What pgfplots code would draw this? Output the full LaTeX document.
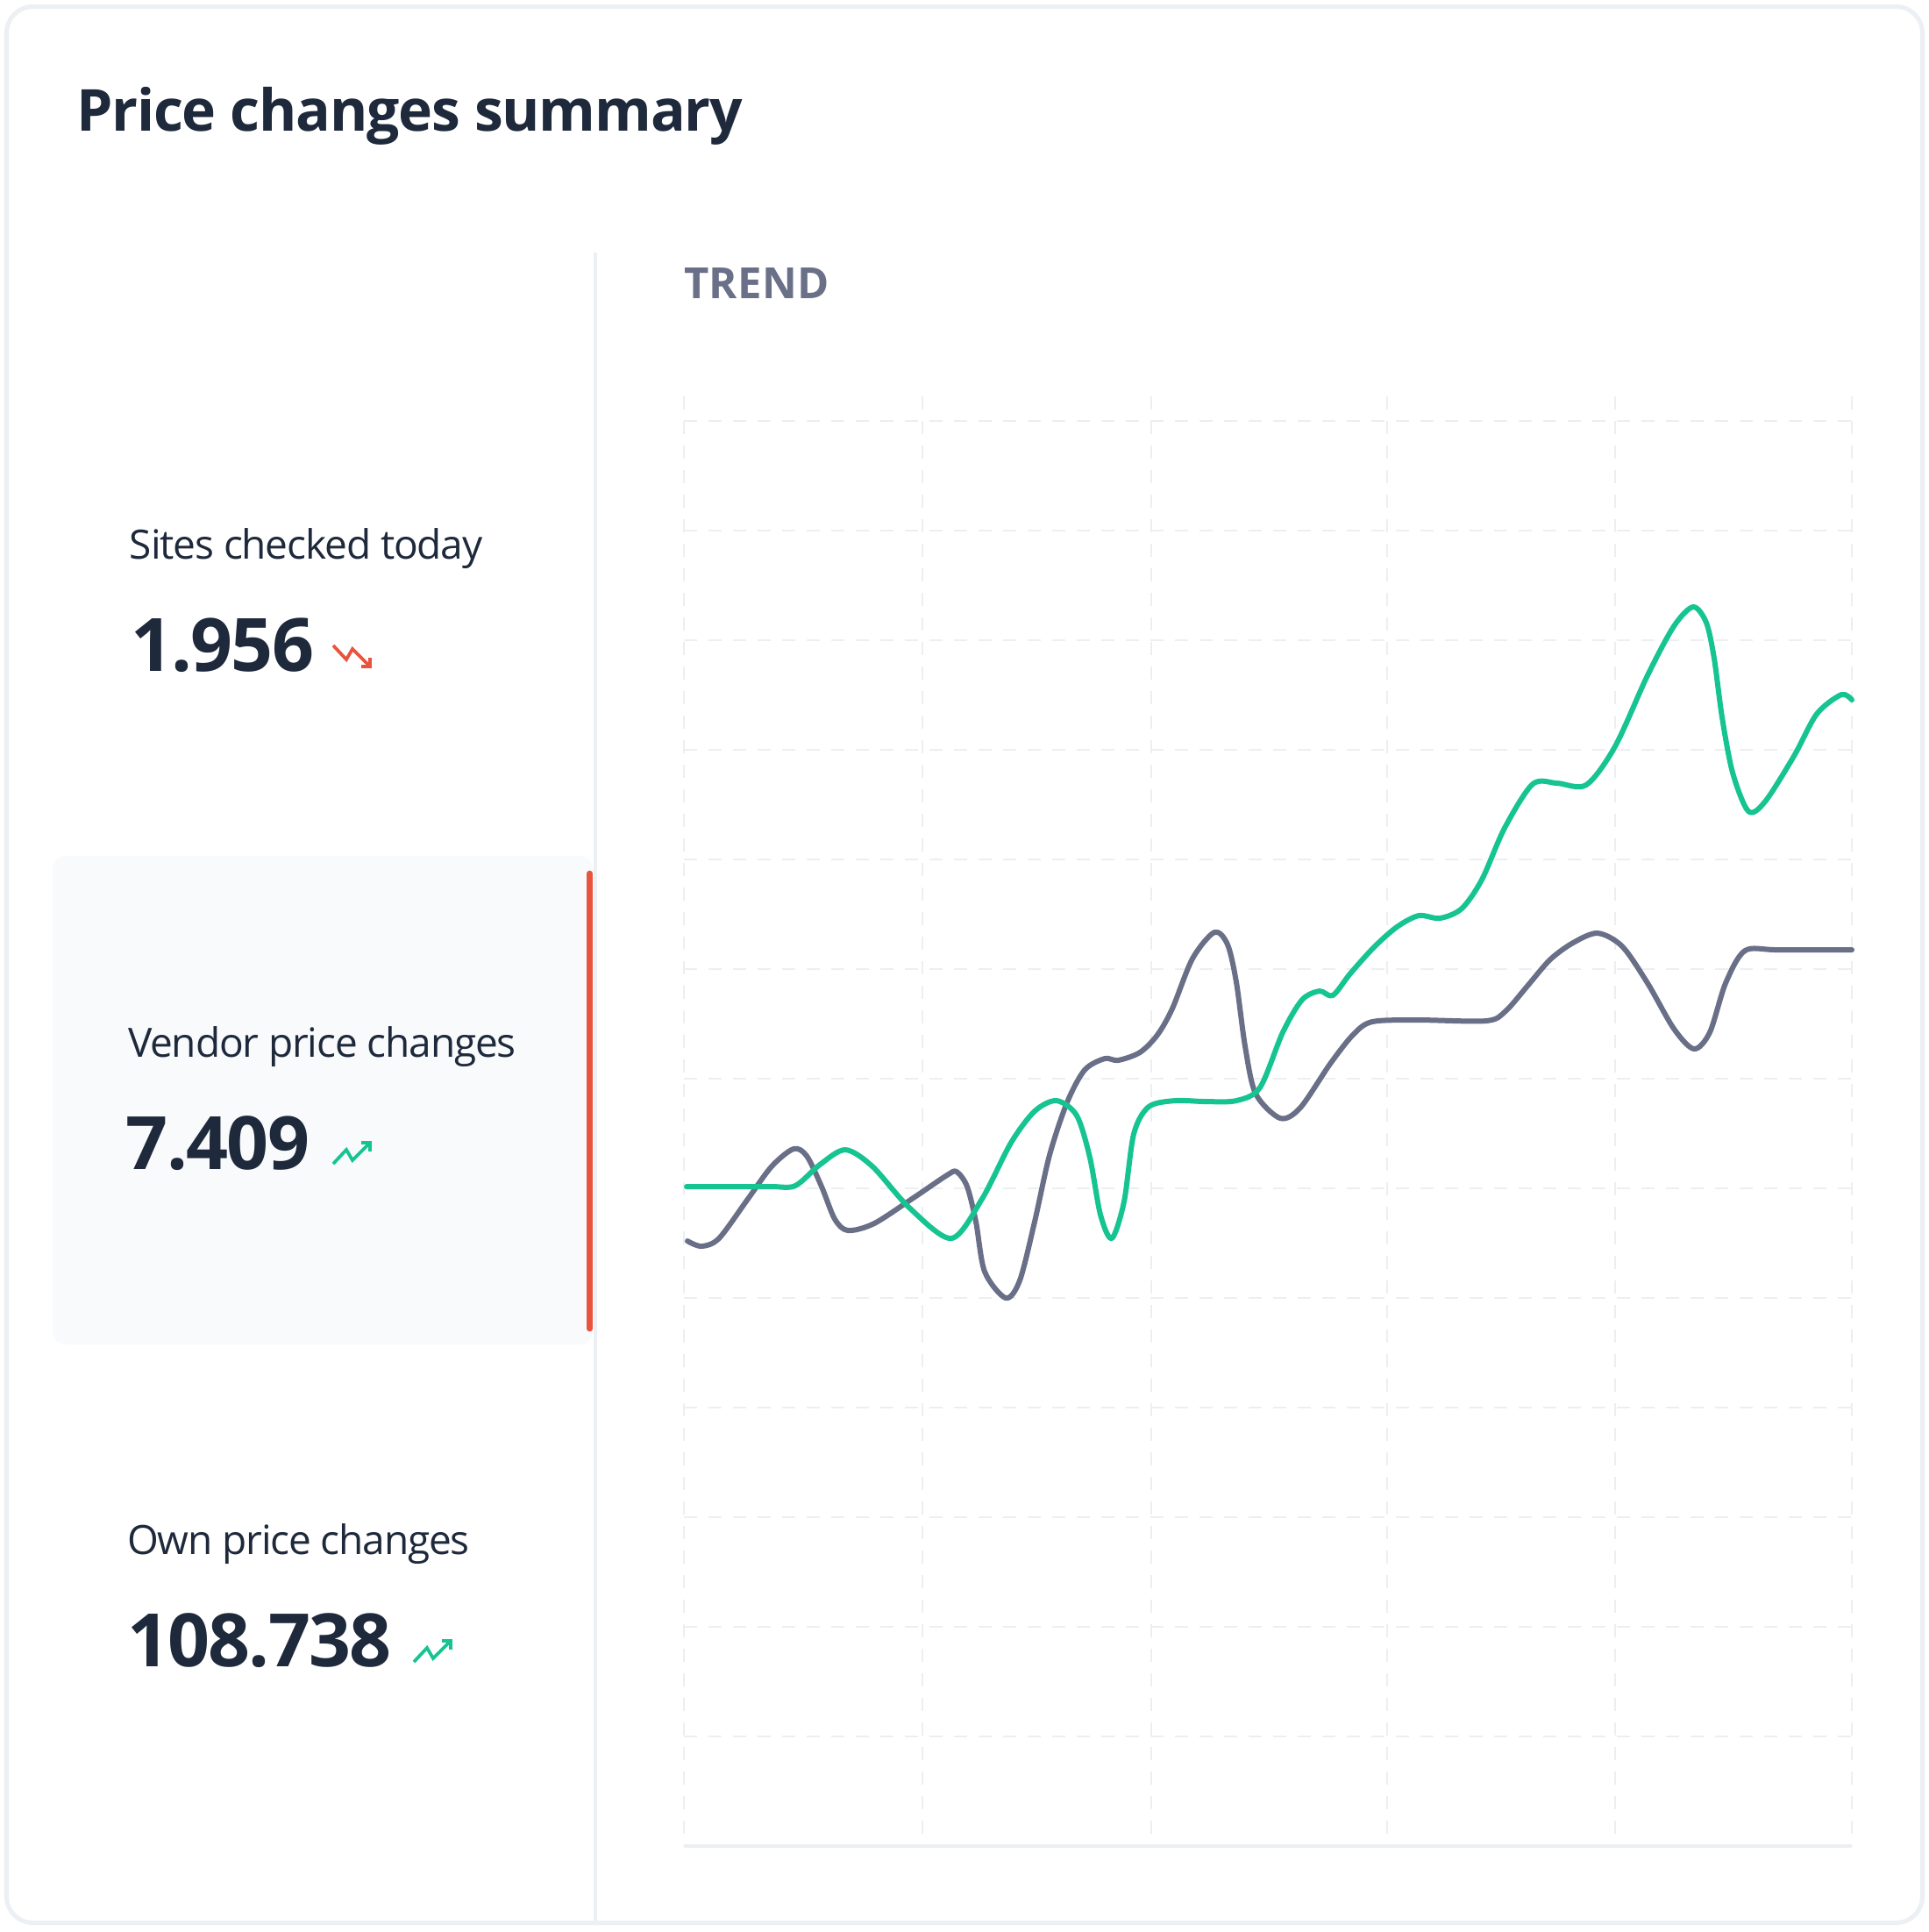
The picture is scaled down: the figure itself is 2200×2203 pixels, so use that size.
\documentclass[border=0pt]{standalone}
\usepackage{pgfplots}
\pgfplotsset{compat=1.18}
\usepackage{fontspec}
\setmainfont{Open Sans}
\newfontfamily\trendfont[LetterSpace=1]{Open Sans}
\newfontfamily\labelfont[LetterSpace=-2.5]{Open Sans}
\newfontfamily\numfont[LetterSpace=-2]{Open Sans}
\newfontfamily\titlefont[LetterSpace=-1.8]{Open Sans}

\definecolor{gridc}{RGB}{236,239,242}
\definecolor{borderc}{RGB}{236,239,243}
\definecolor{panelc}{RGB}{248,250,252}
\definecolor{greenc}{RGB}{22,196,145}
\definecolor{grayc}{RGB}{105,111,135}
\definecolor{navy}{RGB}{30,41,59}
\definecolor{trendc}{RGB}{105,112,135}
\definecolor{redc}{RGB}{232,84,62}

% traced series, in picture pixels (x to the right, y downwards)
\pgfplotstableread{
x y
783 1353
830 1353
880 1353
907 1352
935 1328
964 1311
995 1330
1037 1377
1085 1412
1120 1367
1153 1303
1180 1267
1205 1255
1228 1272
1243 1320
1255 1385
1268 1412
1282 1370
1293 1293
1310 1262
1340 1255
1375 1256
1410 1255
1437 1240
1463 1177
1485 1140
1505 1130
1520 1135
1540 1110
1567 1080
1593 1057
1618 1044
1642 1047
1667 1036
1690 1003
1716 944
1748 894
1776 893
1809 895
1842 851
1879 770
1909 714
1931 692
1946 710
1955 751
1964 818
1976 881
1994 925
2013 914
2046 862
2072 814
2100 792
2112 798
}\vendor

\pgfplotstableread{
x y
784 1415
800 1421
820 1412
853 1367
880 1330
905 1310
920 1318
937 1353
952 1390
967 1403
997 1395
1043 1365
1080 1340
1091 1336
1103 1353
1113 1393
1123 1450
1147 1480
1163 1460
1180 1393
1197 1317
1217 1257
1237 1220
1260 1207
1275 1209
1300 1200
1320 1180
1337 1150
1360 1093
1385 1063
1400 1077
1410 1120
1420 1193
1432 1247
1460 1275
1483 1263
1517 1213
1543 1180
1565 1165
1617 1163
1695 1164
1717 1153
1743 1123
1768 1094
1794 1075
1822 1064
1850 1079
1879 1121
1909 1173
1932 1196
1950 1177
1968 1121
1990 1084
2027 1083
2112 1083
}\own

\begin{document}
\begin{tikzpicture}
% page: 2200 x 2203 px at 5 px per pt, y downwards
\begin{scope}[x=0.2pt, y=-0.2pt]
  \path[use as bounding box, fill=white] (0,0) rectangle (2200,2203);
  \draw[borderc, line width=1pt, rounded corners=6pt] (7.5,7.5) rectangle (2192.5,2192.5);
  \fill[panelc, rounded corners=3pt] (60,976) rectangle (676,1533);
  \draw[borderc, line width=0.7pt] (679,288) -- (679,2192);
  \draw[redc, line width=1.35pt, line cap=round] (672.5,996) -- (672.5,1515);

  \node[anchor=base west, inner sep=0, text=navy, font=\titlefont\bfseries\fontsize{13.2}{16}\selectfont] at (86,149) {Price changes summary};
  \node[anchor=base west, inner sep=0, text=trendc, font=\trendfont\bfseries\fontsize{9.8}{12}\selectfont] at (779,340) {TREND};

  \node[anchor=base west, inner sep=0, text=navy, font=\labelfont\fontsize{9.2}{12}\selectfont] at (147,637) {Sites checked today};
  \node[anchor=base west, inner sep=0, text=navy, font=\numfont\bfseries\fontsize{16.8}{20}\selectfont] at (148,765) {1.956};
  \node[anchor=base west, inner sep=0, text=navy, font=\labelfont\fontsize{9.2}{12}\selectfont] at (145,1205) {Vendor price changes};
  \node[anchor=base west, inner sep=0, text=navy, font=\numfont\bfseries\fontsize{16.8}{20}\selectfont] at (143,1333) {7.409};
  \node[anchor=base west, inner sep=0, text=navy, font=\labelfont\fontsize{9.2}{12}\selectfont] at (144,1772) {Own price changes};
  \node[anchor=base west, inner sep=0, text=navy, font=\numfont\bfseries\fontsize{16.8}{20}\selectfont] at (144,1900) {108.738};

  % trend icons
  \begin{scope}[shift={(380,736)}, redc, line width=0.75pt]
    \draw (0,0) -- (15,16) -- (22,4) -- (42,24);
    \draw (32,24) -- (42,24) -- (42,14);
  \end{scope}
  \begin{scope}[shift={(380,1327)}, greenc, line width=0.75pt]
    \draw (0,0) -- (15,-16) -- (22,-4) -- (42,-24);
    \draw (32,-24) -- (42,-24) -- (42,-14);
  \end{scope}
  \begin{scope}[shift={(472,1895)}, greenc, line width=0.75pt]
    \draw (0,0) -- (15,-16) -- (22,-4) -- (42,-24);
    \draw (32,-24) -- (42,-24) -- (42,-14);
  \end{scope}
\end{scope}

\begin{axis}[
    at={(156pt,-421pt)}, anchor=south west,
    width=266.4pt, height=330.6pt, scale only axis,
    xmin=780, xmax=2112, ymin=452, ymax=2105, y dir=reverse,
    axis line style={draw=none},
    tick style={draw=none},
    xticklabels={}, yticklabels={},
    xtick={780,1052,1313,1582,1842,2112},
    ytick={480,605,730,855,980,1105,1230,1355,1480,1605,1730,1855,1980},
    grid=major,
    grid style={gridc, line width=0.5pt, dash pattern=on 3pt off 2.6pt},
    clip=false,
]
\draw[gridc, line width=0.8pt] (axis cs:780,2105) -- (axis cs:2112,2105);

% Own price changes (gray)
\addplot[grayc, line width=1.2pt, smooth, line cap=round, line join=round] table[x=x, y=y] {\own};

% Vendor price changes (green)
\addplot[greenc, line width=1.2pt, smooth, line cap=round, line join=round] table[x=x, y=y] {\vendor};
\end{axis}
\end{tikzpicture}
\end{document}
